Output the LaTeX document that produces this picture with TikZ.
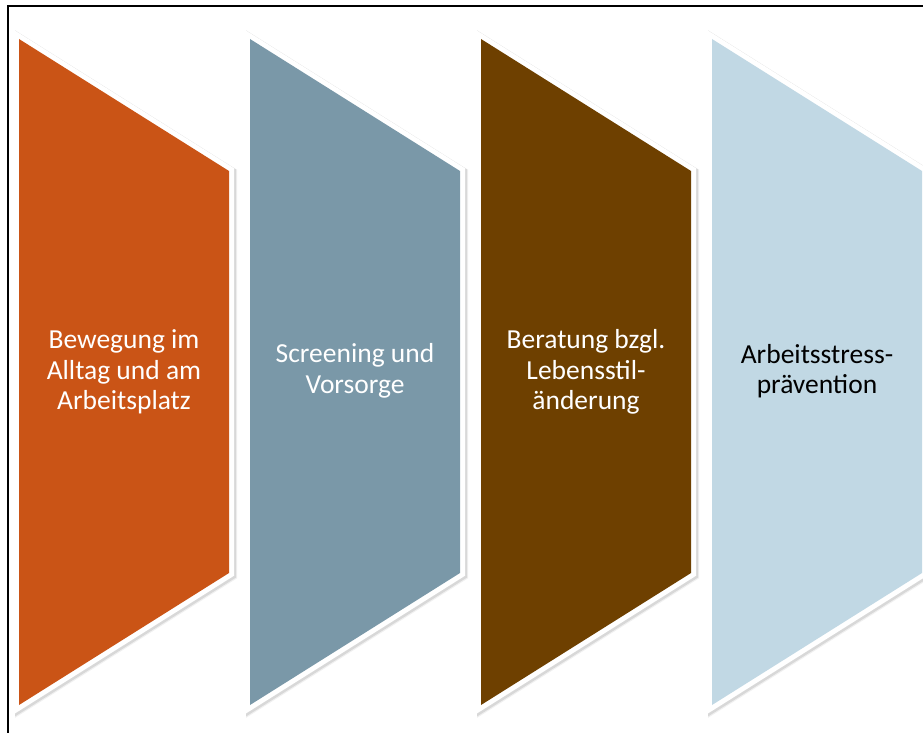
\documentclass[tikz,border=0pt]{standalone}
\usepackage{fontspec}
\setmainfont{Carlito}
\definecolor{cOrange}{RGB}{202,84,22}
\definecolor{cSlate}{RGB}{122,152,168}
\definecolor{cBrown}{RGB}{110,64,0}
\definecolor{cLight}{RGB}{193,216,228}
\begin{document}
\begin{tikzpicture}[x=1pt,y=-1pt,
  shadowline/.style={draw=black,line width=11pt,line join=miter,opacity=0.10},
  whiteline/.style={draw=white,line width=10pt,line join=miter},
  label/.style={inner sep=0pt,align=center,font=\fontsize{27.5}{30.5}\selectfont}]
\useasboundingbox (0,0) rectangle (923,733);
\clip (0,0) rectangle (923,733);
\draw[line width=2pt] (7.5,6.5) rectangle (940,750);
\foreach \xl/\col [count=\i] in {19/cOrange,250/cSlate,481/cBrown,712/cLight}{
  \pgfmathsetmacro{\xr}{\xl+210}
  \path[shadowline] (\xl+1.5,40.5) -- (\xr+1.5,172.5) -- (\xr+1.5,574.5) -- (\xl+1.5,706.5) -- cycle;
  \path[shadowline,line width=12pt,opacity=0.06] (\xl+2,41) -- (\xr+2,173) -- (\xr+2,575) -- (\xl+2,707) -- cycle;
  \path[whiteline] (\xl,39) -- (\xr,171) -- (\xr,573) -- (\xl,705) -- cycle;
  \path[fill=\col] (\xl,39) -- (\xr,171) -- (\xr,573) -- (\xl,705) -- cycle;
}
\node[label,text=white] (t1) at (124,372) {Bewegung im\\Alltag und am\\Arbeitsplatz};
\node[label,text=white] (t2) at (355,371) {Screening und\\Vorsorge};
\node[label,text=white] (t3) at (586,372) {Beratung bzgl.\\Lebensstil-\\änderung};
\node[label,text=black] (t4) at (817,371) {Arbeitsstress-\\prävention};
\end{tikzpicture}
\end{document}
